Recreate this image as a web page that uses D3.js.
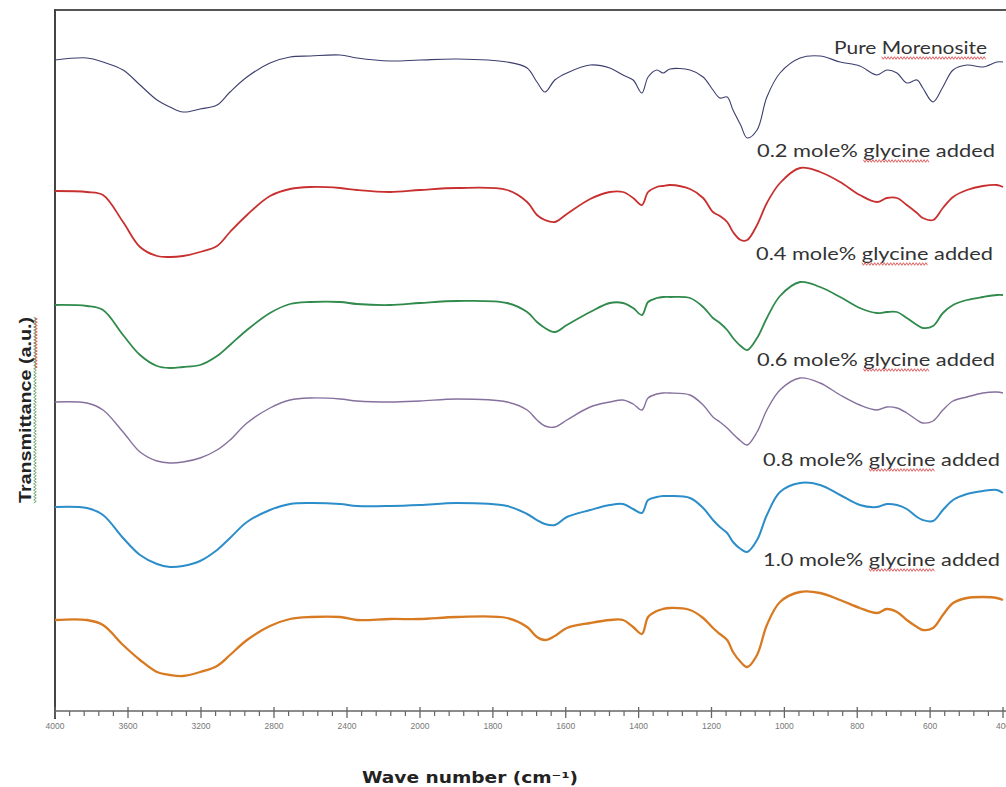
<!DOCTYPE html>
<html>
<head>
<meta charset="utf-8">
<script src="https://cdnjs.cloudflare.com/ajax/libs/d3/7.8.5/d3.min.js"></script>
<style>
  body { margin: 0; background: #fff; }
  svg { display: block; }
</style>
</head>
<body>
<script>
// FTIR spectra, stacked (transmittance in a.u.)

var width = 1006,
    height = 787;

// wave numbers (cm-1) shared by all the spectra
var waveNumbers = [4000, 3825, 3737, 3627, 3534, 3441, 3370, 3299, 3205, 3112, 3041, 2948, 2822, 2712, 2600, 2438,
  2345, 2164, 2000, 1898, 1761, 1706, 1679, 1657, 1630, 1597, 1533, 1479, 1443, 1415, 1391, 1374, 1350, 1333, 1314,
  1259, 1223, 1196, 1177, 1157, 1141, 1120, 1102, 1075, 1048, 1012, 957, 902, 847, 793, 746, 719, 691, 664, 636, 620,
  592, 565, 537, 499, 455, 417, 400];

var pureMorenosite = [65.1, 65.3, 64.9, 64.1, 62.6, 61.1, 60.4, 59.9, 60.2, 60.6, 61.9, 63.4, 64.8, 65.4, 65.5, 65.6,
  65.3, 65.0, 65.1, 65.2, 64.9, 64.3, 62.9, 61.9, 63.1, 63.8, 64.6, 64.3, 63.6, 63.1, 61.8, 63.4, 64.1, 63.8, 64.2,
  64.1, 63.4, 62.1, 61.3, 61.4, 60.1, 58.6, 57.3, 58.1, 61.4, 63.8, 65.3, 65.5, 64.9, 64.5, 63.6, 64.1, 63.8, 62.8,
  63.1, 62.3, 60.9, 62.4, 64.1, 64.6, 64.4, 64.9, 64.9];

var glycine02 = [52.0, 51.9, 51.6, 48.9, 46.4, 45.5, 45.4, 45.5, 45.9, 46.5, 47.9, 49.6, 51.5, 52.2, 52.4, 52.3,
  52.1, 51.9, 52.1, 52.3, 52.1, 50.9, 49.6, 49.1, 48.9, 49.7, 51.2, 51.9, 51.9, 51.3, 50.6, 51.9, 52.4, 52.5, 52.6,
  52.2, 51.3, 49.9, 49.5, 48.9, 47.9, 47.1, 47.1, 48.6, 50.8, 52.8, 54.3, 53.9, 52.9, 51.6, 50.9, 51.3, 51.3, 50.6,
  49.8, 49.3, 49.1, 50.3, 51.4, 52.1, 52.5, 52.6, 52.4];

var glycine04 = [40.6, 40.5, 40.1, 37.6, 35.6, 34.5, 34.3, 34.4, 34.6, 35.5, 36.6, 38.1, 39.8, 40.7, 40.9, 40.9,
  40.7, 40.6, 40.8, 41.0, 40.8, 39.9, 38.9, 38.3, 37.9, 38.6, 39.9, 40.8, 40.8, 40.3, 39.6, 40.9, 41.3, 41.4, 41.4,
  41.3, 40.4, 39.3, 38.8, 38.1, 37.3, 36.5, 36.1, 37.3, 39.3, 41.5, 42.9, 42.4, 41.4, 40.3, 39.8, 39.9, 39.9, 39.3,
  38.6, 38.3, 38.5, 39.8, 40.6, 41.1, 41.4, 41.6, 41.6];

var glycine06 = [30.9, 30.8, 30.1, 27.9, 25.9, 25.0, 24.8, 24.9, 25.3, 26.1, 27.1, 28.8, 30.3, 31.1, 31.3, 31.2,
  31.0, 30.9, 31.0, 31.2, 30.9, 30.1, 29.1, 28.5, 28.4, 29.1, 30.4, 30.9, 31.1, 30.7, 30.1, 31.3, 31.7, 31.8, 31.8,
  31.6, 30.6, 29.4, 28.9, 28.3, 27.7, 27.0, 26.6, 27.9, 30.1, 32.1, 33.3, 32.8, 31.6, 30.6, 30.1, 30.4, 30.3, 29.8,
  29.1, 28.8, 29.0, 30.1, 31.0, 31.4, 31.8, 31.9, 31.8];

var glycine08 = [20.4, 20.3, 19.6, 17.3, 15.6, 14.7, 14.4, 14.5, 15.0, 16.1, 17.3, 18.9, 20.1, 20.7, 20.8, 20.7,
  20.5, 20.5, 20.6, 20.8, 20.5, 19.7, 19.1, 18.7, 18.6, 19.4, 20.1, 20.6, 20.7, 20.2, 19.8, 21.1, 21.4, 21.5, 21.5,
  21.3, 20.3, 19.1, 18.4, 17.8, 16.9, 16.2, 15.9, 17.1, 19.6, 21.9, 22.8, 22.6, 21.6, 20.6, 20.4, 20.7, 20.6, 20.2,
  19.4, 19.1, 19.0, 20.1, 21.1, 21.7, 22.0, 22.1, 21.8];

var glycine10 = [9.1, 9.1, 8.6, 6.6, 5.1, 3.9, 3.6, 3.5, 3.9, 4.5, 5.6, 7.1, 8.5, 9.2, 9.4, 9.4,
  9.1, 9.2, 9.2, 9.4, 9.3, 8.4, 7.4, 7.1, 7.5, 8.3, 8.8, 9.1, 9.1, 8.4, 7.7, 9.4, 10.0, 10.2, 10.3,
  10.1, 9.3, 8.3, 7.7, 7.1, 5.9, 4.9, 4.4, 5.6, 8.6, 10.9, 11.9, 11.8, 11.1, 10.3, 9.8, 10.2, 9.9, 9.1,
  8.4, 8.1, 8.3, 9.6, 10.8, 11.3, 11.4, 11.3, 11.1];

var seriesNames = ["Pure Morenosite", "0.2 mole% glycine added", "0.4 mole% glycine added",
  "0.6 mole% glycine added", "0.8 mole% glycine added", "1.0 mole% glycine added"];
var seriesValues = [pureMorenosite, glycine02, glycine04, glycine06, glycine08, glycine10];
var seriesColors = ["#3b3f6e", "#c8302f", "#2f8a4c", "#86709e", "#2b8dc9", "#d87a22"];
var seriesWidths = [1.1, 1.8, 1.8, 1.4, 2, 2.3];

var majorTicks = [4000, 3600, 3200, 2800, 2400, 2000, 1800, 1600, 1400, 1200, 1000, 800, 600, 400];

// label placement (x of text start, baseline y)
var labelPlaces = [[834, 54], [757, 157], [756, 260], [757, 366], [763, 466], [763, 566]];

var svg = d3.select("body").append("svg")
    .attr("width", width)
    .attr("height", height);

// scale is compressed above 2000 cm-1, like the spectrometer print
var x = d3.scaleLinear()
    .domain([4000, 2000, 400])
    .range([55, 420, 1003]);

var y = d3.scaleLinear()
    .domain([0, 70])
    .range([711, 11]);

// frame: top and left
svg.append("line")
    .attr("x1", 55).attr("x2", width)
    .attr("y1", 10).attr("y2", 10)
    .style("stroke", "#555").style("stroke-width", 2);
svg.append("line")
    .attr("x1", 55).attr("x2", 55)
    .attr("y1", 9).attr("y2", 719)
    .style("stroke", "#444").style("stroke-width", 2);

// x axis
var axisY = 711;
svg.append("line")
    .attr("x1", 55).attr("x2", width)
    .attr("y1", axisY).attr("y2", axisY)
    .style("stroke", "#666").style("stroke-width", 1.5);

var minorTicks = d3.range(4000, 2000, -80).concat(d3.range(2000, 400, -40))
    .filter(function(d) { return majorTicks.indexOf(d) < 0; });

svg.selectAll(".minor")
    .data(minorTicks)
    .enter().append("line")
    .attr("class", "minor")
    .attr("x1", function(d) { return x(d); })
    .attr("x2", function(d) { return x(d); })
    .attr("y1", axisY)
    .attr("y2", axisY + 5)
    .style("stroke", "#666").style("stroke-width", 1.2);

svg.selectAll(".major")
    .data(majorTicks)
    .enter().append("line")
    .attr("class", "major")
    .attr("x1", function(d) { return x(d); })
    .attr("x2", function(d) { return x(d); })
    .attr("y1", axisY - 4)
    .attr("y2", axisY + 7)
    .style("stroke", "#666").style("stroke-width", 1.3);

svg.selectAll(".tickLabel")
    .data(majorTicks)
    .enter().append("text")
    .attr("class", "tickLabel")
    .attr("x", function(d) { return x(d); })
    .attr("y", axisY + 18)
    .attr("text-anchor", "middle")
    .style("font-family", "'Liberation Sans', Arial, sans-serif")
    .style("font-size", "8.5px")
    .style("fill", "#777")
    .text(function(d) { return d; });

// spectra
var line = d3.line()
    .x(function(d) { return x(d[0]); })
    .y(function(d) { return y(d[1]); })
    .curve(d3.curveCatmullRom.alpha(0.5));

svg.selectAll(".spectrum")
    .data(seriesValues)
    .enter().append("path")
    .attr("class", "spectrum")
    .attr("d", function(vals) {
      return line(waveNumbers.map(function(w, i) { return [w, vals[i]]; }));
    })
    .style("fill", "none")
    .style("stroke", function(d, i) { return seriesColors[i]; })
    .style("stroke-width", function(d, i) { return seriesWidths[i]; })
    .style("stroke-linejoin", "round");

// red spell-check style squiggle under part of a text
function squiggle(x0, x1, yy, color) {
  var pts = [], k = 0;
  for (var xx = x0; xx <= x1; xx += 1.6) {
    pts.push([xx, yy + (k % 2 ? 1.3 : -1.3)]);
    k++;
  }
  svg.append("path")
      .attr("d", d3.line()(pts))
      .style("fill", "none")
      .style("stroke", color)
      .style("stroke-width", 0.8);
}

var labelWidths = [153, 238, 237, 238, 237, 237];

seriesNames.forEach(function(name, i) {
  var t = svg.append("text")
      .attr("x", labelPlaces[i][0])
      .attr("y", labelPlaces[i][1])
      .attr("textLength", labelWidths[i])
      .attr("lengthAdjust", "spacingAndGlyphs")
      .style("font-family", "Lato, 'Open Sans', sans-serif")
      .style("font-size", "17px")
      .style("fill", "#333")
      .text(name);
  var word = i === 0 ? "Morenosite" : "glycine";
  var start = name.indexOf(word);
  var node = t.node();
  var a = node.getStartPositionOfChar(start).x;
  var b = node.getEndPositionOfChar(start + word.length - 1).x;
  squiggle(a, b, labelPlaces[i][1] + 4, "#d83a3a");
});

// axis titles
svg.append("text")
    .attr("transform", "translate(31,410) rotate(-90)")
    .attr("text-anchor", "middle")
    .attr("textLength", 186)
    .attr("lengthAdjust", "spacingAndGlyphs")
    .style("font-family", "'Liberation Sans Narrow', 'Liberation Sans', Arial, sans-serif")
    .style("font-weight", "bold")
    .style("font-size", "17px")
    .style("fill", "#222")
    .text("Transmittance (a.u.)");

svg.append("g")
    .attr("transform", "translate(35,410) rotate(-90)")
    .call(function(g) {
      var pts = [], k = 0;
      for (var xx = -93; xx <= 93; xx += 1.6) {
        pts.push([xx, (k % 2 ? 1.3 : -1.3)]);
        k++;
      }
      g.append("path").attr("d", d3.line()(pts))
          .style("fill", "none").style("stroke", "#4a9a4a").style("stroke-width", 0.8);
      g.append("path").attr("d", d3.line()(pts.filter(function(p) { return p[0] > 40; })))
          .attr("transform", "translate(0,1)")
          .style("fill", "none").style("stroke", "#d83a3a").style("stroke-width", 0.7);
    });

svg.append("text")
    .attr("x", 470)
    .attr("y", 783)
    .attr("text-anchor", "middle")
    .attr("textLength", 216)
    .attr("lengthAdjust", "spacingAndGlyphs")
    .style("font-family", "'DejaVu Sans', Verdana, sans-serif")
    .style("font-weight", "bold")
    .style("font-size", "16px")
    .style("fill", "#222")
    .text("Wave number (cm\u207B\u00B9)");
</script>
</body>
</html>
